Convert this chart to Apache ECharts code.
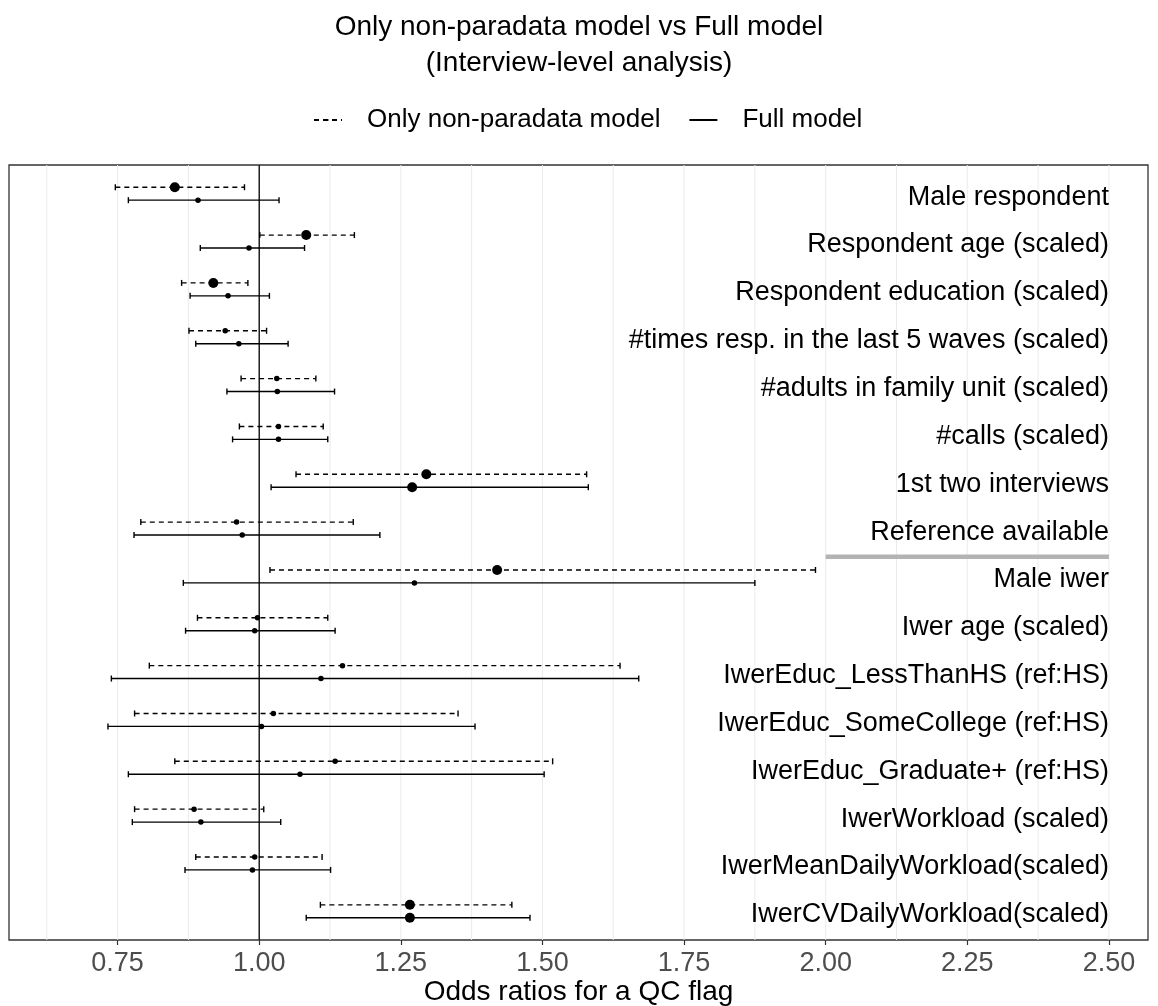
<!DOCTYPE html>
<html>
<head>
<meta charset="utf-8">
<script src="https://cdn.jsdelivr.net/npm/echarts@6/dist/echarts.min.js"></script>
<style>
  html, body { margin: 0; padding: 0; background: #fff; }
  #chart { width: 1158px; height: 1006px; }
</style>
</head>
<body>
<div id="chart"></div>
<script>
// rows, top to bottom
var labels = [
  'Male respondent',
  'Respondent age (scaled)',
  'Respondent education (scaled)',
  '#times resp. in the last 5 waves (scaled)',
  '#adults in family unit (scaled)',
  '#calls (scaled)',
  '1st two interviews',
  'Reference available',
  'Male iwer',
  'Iwer age (scaled)',
  'IwerEduc_LessThanHS (ref:HS)',
  'IwerEduc_SomeCollege (ref:HS)',
  'IwerEduc_Graduate+ (ref:HS)',
  'IwerWorkload (scaled)',
  'IwerMeanDailyWorkload(scaled)',
  'IwerCVDailyWorkload(scaled)'
]

// Only non-paradata model (dashed)
var npEst = [0.851, 1.083, 0.919, 0.940, 1.031, 1.034, 1.295, 0.960, 1.420, 0.997, 1.147, 1.025, 1.134, 0.885, 0.992, 1.266]
var npLow = [0.746, 1.001, 0.863, 0.876, 0.968, 0.965, 1.065, 0.791, 1.019, 0.891, 0.806, 0.780, 0.851, 0.780, 0.888, 1.108]
var npHigh = [0.974, 1.168, 0.980, 1.013, 1.100, 1.113, 1.578, 1.166, 1.982, 1.121, 1.637, 1.351, 1.518, 1.008, 1.111, 1.446]
var npSig = [1, 1, 1, 0, 0, 0, 1, 0, 1, 0, 0, 0, 0, 0, 0, 1]

// Full model (solid)
var fullEst = [0.892, 0.982, 0.945, 0.964, 1.032, 1.034, 1.270, 0.970, 1.274, 0.992, 1.109, 1.004, 1.072, 0.897, 0.988, 1.266]
var fullLow = [0.769, 0.896, 0.878, 0.888, 0.943, 0.953, 1.021, 0.779, 0.866, 0.870, 0.739, 0.733, 0.769, 0.776, 0.869, 1.083]
var fullHigh = [1.035, 1.080, 1.018, 1.051, 1.133, 1.121, 1.581, 1.213, 1.875, 1.134, 1.670, 1.381, 1.503, 1.038, 1.126, 1.478]
var fullSig = [0, 0, 0, 0, 0, 0, 1, 0, 0, 0, 0, 0, 0, 0, 0, 1]

var xTicks = [0.75, 1.00, 1.25, 1.50, 1.75, 2.00, 2.25, 2.50]
var xGrid = [0.625, 0.75, 0.875, 1.0, 1.125, 1.25, 1.375, 1.5, 1.625, 1.75, 1.875, 2.0, 2.125, 2.25, 2.375, 2.5]
var refLine = [2.0, 2.5, 8.59] // from, to, row position
var nullValue = 1.0
var labelX = 2.5

var FONT = '"Liberation Sans", Arial, sans-serif'
var DODGE = 0.135
var CAP = 3

function rowData(est, low, high) {
  return labels.map(function(l, i) { return [i + 1, low[i], high[i], est[i]] })
}

function errorBars(offset, dash) {
  return function(params, api) {
    var y = api.value(0) + offset
    var p1 = api.coord([api.value(1), y])
    var p2 = api.coord([api.value(2), y])
    var base = { stroke: '#000', lineWidth: 1.4, fill: null }
    var main = Object.assign({}, base, dash ? { lineDash: [5, 4] } : {})
    return {
      type: 'group',
      children: [
        { type: 'line', shape: { x1: p1[0], y1: p1[1], x2: p2[0], y2: p2[1] }, style: main },
        { type: 'line', shape: { x1: p1[0], y1: p1[1] - CAP, x2: p1[0], y2: p1[1] + CAP }, style: base },
        { type: 'line', shape: { x1: p2[0], y1: p2[1] - CAP, x2: p2[0], y2: p2[1] + CAP }, style: base }
      ]
    }
  }
}

function points(est, sig, offset) {
  return est.map(function(v, i) {
    return { value: [v, i + 1 + offset], symbolSize: sig[i] ? 10 : 5.5 }
  })
}

var chart = echarts.init(document.getElementById('chart'))

var option = {
  backgroundColor: '#fff',
  animation: false,
  title: {
    text: 'Only non-paradata model vs Full model\n(Interview-level analysis)',
    left: 'center',
    top: 9,
    padding: 0,
    textStyle: { fontFamily: FONT, fontSize: 28, fontWeight: 'normal', color: '#000', lineHeight: 36 }
  },
  legend: {
    data: ['Only non-paradata model', 'Full model'],
    left: 313,
    top: 107,
    padding: 0,
    itemWidth: 28,
    itemHeight: 2,
    itemGap: 28,
    textStyle: { fontFamily: FONT, fontSize: 26, color: '#000', padding: [0, 0, 0, 20] }
  },
  grid: {
    left: 9,
    right: 10,
    top: 165,
    bottom: 66,
    outerBoundsMode: 'none',
    containLabel: false,
    show: true,
    borderColor: '#333',
    borderWidth: 1.3,
    backgroundColor: '#fff'
  },
  xAxis: {
    type: 'value',
    min: 0.5583,
    max: 2.569,
    name: 'Odds ratios for a QC flag',
    nameLocation: 'middle',
    nameGap: 38,
    nameMoveOverlap: false,
    nameTextStyle: { fontFamily: FONT, fontSize: 28, color: '#000' },
    axisLine: { show: false },
    axisTick: { show: true, customValues: xTicks, length: 5, lineStyle: { color: '#333', width: 1.2 } },
    axisLabel: {
      customValues: xTicks,
      margin: 10,
      fontFamily: FONT,
      fontSize: 27,
      color: '#4d4d4d',
      formatter: function(v) { return v.toFixed(2) }
    },
    splitLine: { show: false }
  },
  yAxis: {
    type: 'value',
    min: 0.4,
    max: 16.6,
    inverse: true,
    show: false,
    splitLine: { show: false }
  },
  series: [
    {
      name: 'Only non-paradata model',
      type: 'line',
      data: [],
      symbol: 'none',
      lineStyle: { color: '#000', width: 1.4, type: [5, 4] },
      itemStyle: { color: '#000' }
    },
    {
      name: 'Full model',
      type: 'line',
      data: [],
      symbol: 'none',
      lineStyle: { color: '#000', width: 1.4, type: 'solid' },
      itemStyle: { color: '#000' }
    },
    {
      // vertical grid lines
      type: 'custom',
      silent: true,
      z: 0,
      data: xGrid.map(function(v) { return [v] }),
      encode: { x: 0 },
      renderItem: function(params, api) {
        var cs = params.coordSys
        var x = api.coord([api.value(0), 1])[0]
        return {
          type: 'line',
          shape: { x1: x, y1: cs.y, x2: x, y2: cs.y + cs.height },
          style: { stroke: '#ebebeb', lineWidth: 1 }
        }
      }
    },
    {
      // reference line at OR = 1
      type: 'custom',
      silent: true,
      z: 1,
      data: [[nullValue]],
      encode: { x: 0 },
      renderItem: function(params, api) {
        var cs = params.coordSys
        var x = api.coord([api.value(0), 1])[0]
        return {
          type: 'line',
          shape: { x1: x, y1: cs.y, x2: x, y2: cs.y + cs.height },
          style: { stroke: '#000', lineWidth: 1.3 }
        }
      }
    },
    {
      // separator under "Reference available"
      type: 'custom',
      silent: true,
      z: 1,
      data: [refLine],
      encode: { x: [0, 1], y: 2 },
      renderItem: function(params, api) {
        var p1 = api.coord([api.value(0), api.value(2)])
        var p2 = api.coord([api.value(1), api.value(2)])
        return {
          type: 'line',
          shape: { x1: p1[0], y1: p1[1], x2: p2[0], y2: p2[1] },
          style: { stroke: '#b3b3b3', lineWidth: 4.5 }
        }
      }
    },
    {
      // row labels inside the panel
      type: 'custom',
      silent: true,
      z: 2,
      data: labels.map(function(l, i) { return [labelX, i + 1] }),
      encode: { x: 0, y: 1 },
      renderItem: function(params, api) {
        var p = api.coord([api.value(0), api.value(1)])
        return {
          type: 'text',
          x: p[0],
          y: p[1] + 3.5,
          style: {
            text: labels[params.dataIndex],
            align: 'right',
            verticalAlign: 'middle',
            fill: '#000',
            font: '27px ' + FONT
          }
        }
      }
    },
    {
      // non-paradata CIs
      type: 'custom',
      z: 3,
      data: rowData(npEst, npLow, npHigh),
      encode: { x: [1, 2], y: 0 },
      renderItem: errorBars(-DODGE, true)
    },
    {
      // full model CIs
      type: 'custom',
      z: 3,
      data: rowData(fullEst, fullLow, fullHigh),
      encode: { x: [1, 2], y: 0 },
      renderItem: errorBars(DODGE, false)
    },
    {
      type: 'scatter',
      z: 4,
      symbol: 'circle',
      itemStyle: { color: '#000', opacity: 1 },
      data: points(npEst, npSig, -DODGE)
    },
    {
      type: 'scatter',
      z: 4,
      symbol: 'circle',
      itemStyle: { color: '#000', opacity: 1 },
      data: points(fullEst, fullSig, DODGE)
    }
  ]
}

chart.setOption(option)
</script>
</body>
</html>
